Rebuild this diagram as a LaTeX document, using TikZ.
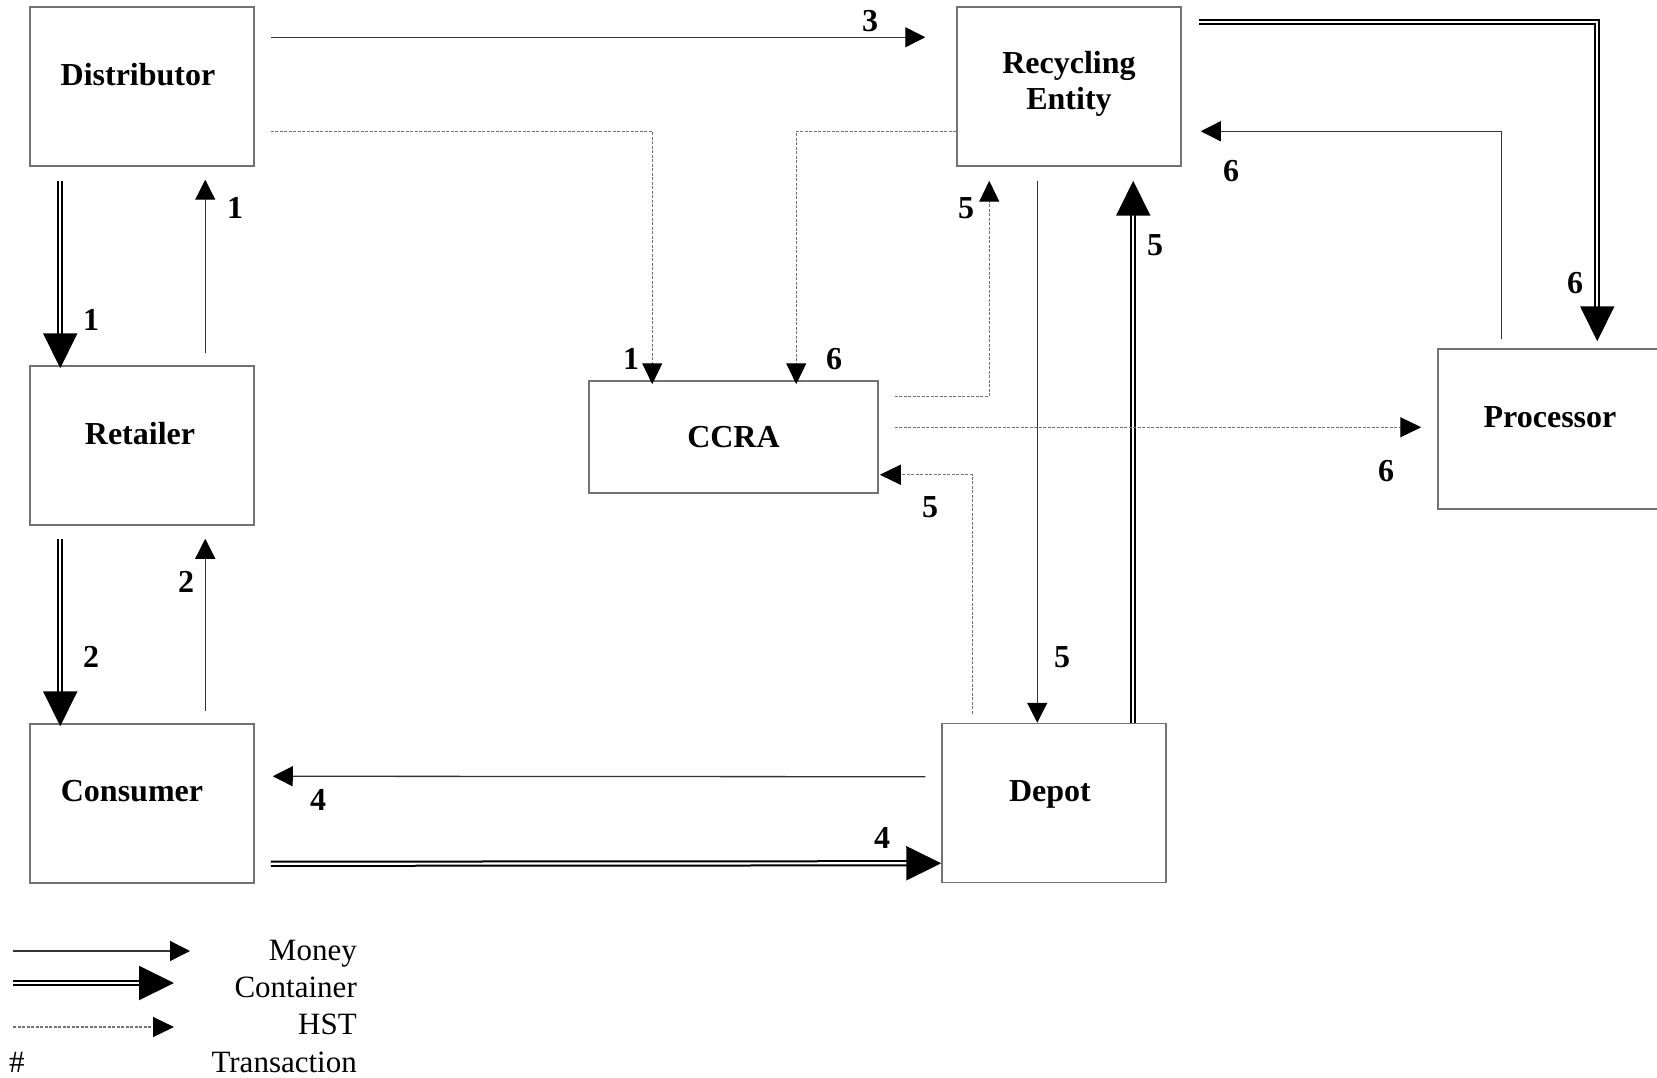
\documentclass[tikz,border=0pt]{standalone}
\usepackage{fontspec}
\setmainfont{Liberation Serif}
\usetikzlibrary{arrows.meta,calc,positioning}
\definecolor{boxgray}{gray}{0.45}
\definecolor{hstgray}{gray}{0.45}

\begin{document}
\begin{tikzpicture}[x=1pt,y=-1pt,
    box/.style={draw=boxgray, line width=1.5pt, minimum width=224pt, minimum height=159pt, inner sep=0pt},
    lbl/.style={font=\fontsize{32}{36}\selectfont\bfseries, align=center, inner sep=0pt},
    num/.style={font=\fontsize{32}{36}\selectfont\bfseries, inner sep=0pt},
    leg/.style={font=\fontsize{31}{36}\selectfont, inner sep=0pt},
    money/.style={draw=black!80, line width=1.3pt, -{Triangle[length=20pt,width=20pt,black]}},
    container/.style={double, double distance=2.2pt, line width=2pt, -{Triangle[length=35pt,width=34pt]}},
    hst/.style={draw=hstgray, line width=1.2pt, dash pattern=on 3pt off 1.5pt, -{Triangle[length=21pt,width=20pt,black]}}]
                \useasboundingbox (0,0) rectangle (1657,1078);
                % boxes
                \node[box, label={[lbl,xshift=-4pt,yshift=12pt]center:Distributor}] (dist) at (142,86.5) {};
                \node[box, label={[lbl,xshift=-2pt,yshift=12pt]center:Retailer}] (ret) at (142,445.5) {};
                \node[box, label={[lbl,xshift=-10pt,yshift=12pt]center:Consumer}] (cons) at (142,803.5) {};
                \node[box, minimum width=289pt, minimum height=112pt, label={[lbl]center:CCRA}] (ccra) at (733.5,437) {};
                \node[box, label={[lbl,yshift=3pt]center:Recycling\\Entity}] (rec) at (1069,86.5) {};
                \node[box, minimum height=160pt, label={[lbl,yshift=12pt]center:Processor}] (proc) at (1550,429) {};
                \node[box, label={[lbl,xshift=-4pt,yshift=9pt]center:Depot}] (depot) at (1054,803) {};
                % money
                \draw[money] ($(dist.north east)+(16,31)$) -- ($(rec.north west)+(-31,31)$);
                \draw[money] ($(ret.north west)+(176,-12)$) -- ($(dist.south west)+(176,13)$);
                \draw[money] ($(cons.north west)+(176,-12)$) -- ($(ret.south west)+(176,13)$);
                \draw[money] ($(depot.north west)+(-16,54)$) -- ($(cons.north east)+(18,53)$);
                \draw[money] ($(rec.south west)+(81,14)$) -- ($(depot.north west)+(96,0)$);
                \draw[money] ($(proc.north west)+(64,-9)$) |- ($(rec.north east)+(19,125)$);
                % container
                \draw[container] ($(dist.south west)+(31,14)$) -- ($(ret.north west)+(31,3)$);
                \draw[container] ($(ret.south west)+(31,13)$) -- ($(cons.north west)+(31,3)$);
                \draw[container] ($(cons.south east)+(16,-20)$) -- ($(depot.south west)+(0,-20)$);
                \draw[container] ($(depot.north west)+(192,0)$) -- ($(rec.south west)+(177,14)$);
                \draw[container] ($(rec.north east)+(17,16)$) -| ($(proc.north west)+(160,-7)$);
                % HST
                \draw[hst] ($(dist.north east)+(16,125)$) -| ($(ccra.north west)+(64,4)$);
                \draw[hst] ($(rec.north west)+(0,125)$) -| ($(ccra.north west)+(208,4)$);
                \draw[hst] ($(ccra.north east)+(16,16)$) -| ($(rec.south west)+(33,14)$);
                \draw[hst] ($(ccra.north east)+(16,47)$) -- ($(proc.north west)+(-16,79)$);
                \draw[hst] ($(depot.north west)+(31,-9)$) |- ($(ccra.south east)+(1,-19)$);
                % transaction numbers
                \foreach \n/\x/\y/\t in {a/870/21/3, b/631/359/1, c/834/359/6, d/91/320/1,
                    e/235/208/1, f/91/657/2, g/186/582/2, h/318/800/4, i/882/838/4,
                    j/1062/657/5, k/1155/245/5, l/966/208/5, m/1386/471/6, n/930/507/5,
                    o/1575/283/6, p/1231/171/6}
                    \node[num] (lab\n) at (\x,\y) {\t};
                % legend
                \coordinate (m0) at (13,951);
                \coordinate (m1) at (190,951);
                \coordinate (c0) at (13,983);
                \coordinate (c1) at (174,983);
                \coordinate (h0) at (13,1027);
                \coordinate (h1) at (174,1027);
                \draw[money] (m0) -- (m1);
                \draw[container] (c0) -- (c1);
                \draw[hst] (h0) -- (h1);
                \node[leg, anchor=base east] (legm) at (357,960) {Money};
                \node[leg, anchor=base east] (legc) at (357,997) {Container};
                \node[leg, anchor=base east] (legh) at (357,1034) {HST};
                \node[leg, anchor=base west] (legn) at (9,1072) {\#};
                \node[leg, anchor=base east] (legt) at (357,1072) {Transaction};
\end{tikzpicture}
\end{document}
